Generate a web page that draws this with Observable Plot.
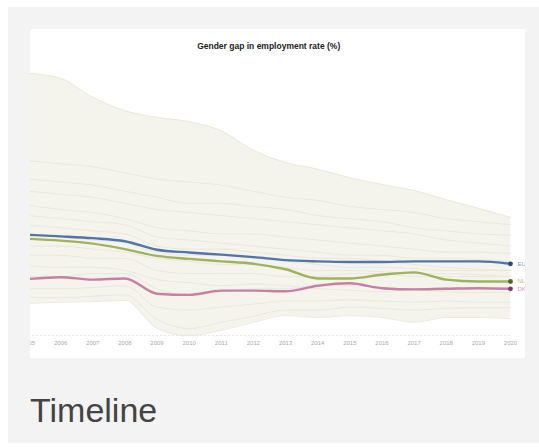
<!DOCTYPE html>
<html>
<head>
<meta charset="utf-8">
<script src="https://cdn.jsdelivr.net/npm/d3@7"></script>
<script src="https://cdn.jsdelivr.net/npm/@observablehq/plot@0.6"></script>
<style>
  html, body { margin: 0; padding: 0; background: #ffffff; }
  body { width: 539px; height: 447px; position: relative; overflow: hidden; font-family: "Liberation Sans", Arial, sans-serif; }
  #card { position: absolute; left: 8px; top: 7px; right: 0; height: 436px; background: #f3f3f3; }
  #panel { position: absolute; left: 30px; top: 29px; width: 495px; height: 329px; background: #ffffff; overflow: hidden; }
  #chart { position: absolute; left: -10px; top: 0; }
  #title { position: absolute; left: 238.7px; top: 13.3px; transform: translateX(-50%); font-size: 8.5px; line-height: 8.5px; font-weight: bold; color: #222; white-space: nowrap; }
  #caption { position: absolute; left: 30px; top: 393px; font-size: 34px; line-height: 34px; color: #444; }
</style>
</head>
<body>
<div id="card"></div>
<div id="panel">
  <div id="chart"></div>
  <div id="title">Gender gap in employment rate (%)</div>
</div>
<div id="caption">Timeline</div>
<script>
// ---- data (percentage points) ----
const years = [2005, 2006, 2007, 2008, 2009, 2010, 2011, 2012, 2013, 2014, 2015, 2016, 2017, 2018, 2019, 2020];

const highlightNames = ["EU", "NL", "DK"];
const euGap = [15.85, 15.6, 15.3, 14.8, 13.4, 12.95, 12.6, 12.2, 11.7, 11.5, 11.4, 11.4, 11.5, 11.5, 11.5, 11.1];
const nlGap = [15.2, 14.9, 14.4, 13.5, 12.4, 11.9, 11.5, 11.1, 10.2, 8.7, 8.7, 9.3, 9.7, 8.5, 8.2, 8.2];
const dkGap = [8.6, 8.9, 8.5, 8.7, 6.2, 6.0, 6.7, 6.7, 6.6, 7.5, 7.9, 7.1, 6.9, 7.0, 7.1, 7.0];
const highlightStroke = ["#5174aa", "#a0b25e", "#c77fa6"];
const highlightDot = ["#2c4677", "#556327", "#7a3a62"];
const highlightLabel = ["#7f9cc8", "#b5c27c", "#d79cbd"];

// envelope of all countries
const bandMax = [42.3, 41.5, 38.4, 36.2, 35.1, 34.4, 32.9, 29.7, 27.7, 26.6, 25.2, 24.1, 23.1, 21.6, 20.2, 18.7];
const bandMin = [4.6, 4.8, 4.9, 5.1, 0.5, -0.7, 0.2, 1.5, 2.6, 2.3, 2.6, 2.3, 1.5, 2.3, 2.3, 2.1];

// other countries (faint background lines)
const bgA = [28, 27.5, 27, 26, 25, 24.5, 24, 23, 22, 21.5, 20.5, 20, 19.5, 18.5, 18, 17.5];
const bgB = [25, 24.5, 24, 23, 22, 21, 21, 20.5, 20, 19, 18.5, 18, 17, 16.5, 16, 15.8];
const bgC = [23, 22.5, 22, 21, 20, 19.5, 19, 18.5, 18, 17.5, 17, 16.5, 16, 15, 14.5, 14];
const bgD = [20.7, 20, 19.5, 18.5, 17, 16.5, 16, 16, 15.5, 15, 14.5, 14, 13.5, 13, 13, 12.8];
const bgE = [19, 18.5, 18, 17.5, 15.5, 15, 14.5, 14, 13.5, 13, 12.5, 12.5, 12, 12, 11.8, 11.5];
const bgF = [17.4, 17, 16.5, 16, 14, 13.5, 13.5, 13, 12.5, 12, 12, 11.5, 11, 10.5, 10.2, 10];
const bgG = [16, 15.5, 15, 14.5, 13, 12.5, 12.5, 12, 11.5, 11, 10.5, 10.5, 10.3, 10, 10, 10];
const bgH = [14, 14, 13.5, 13, 12, 11.5, 11, 11, 10.5, 10, 10, 9.8, 9.5, 9.5, 9.3, 9];
const bgI = [12.5, 12.5, 12, 12, 10, 9.5, 9.5, 9.5, 9, 9, 9.5, 9.5, 9, 9, 9, 9];
const bgJ = [10.8, 10.5, 10.5, 10, 8.5, 8, 7.5, 7.8, 7.5, 7, 6.8, 6.5, 6.8, 6.5, 6.4, 6.4];
const bgK = [9, 9, 9.5, 9.5, 7, 6, 6.5, 7, 7, 7.5, 7.5, 7.2, 7, 7.2, 7, 7];
const bgL = [7, 7, 7.2, 7.5, 4, 3.5, 4, 4.5, 5, 5, 5.2, 5, 4.8, 5, 4.8, 4.8];
const bgM = [5.6, 5.5, 5.8, 6, 2, 0.5, 1.5, 2.5, 3.5, 3.5, 4, 3.8, 3.5, 3.8, 3.9, 3.9];
const axisFloor = -0.65;

// ---- build tables ----
const bgSeries = [bgA, bgB, bgC, bgD, bgE, bgF, bgG, bgH, bgI, bgJ, bgK, bgL, bgM, bandMax, bandMin];
const bgRows = bgSeries.flatMap((s, k) => years.map((yr, i) => ({year: yr, value: s[i], series: k})));
const bandRows = years.map((yr, i) => ({year: yr, lo: bandMin[i], hi: bandMax[i]}));
const hlSeries = [euGap, nlGap, dkGap];
const hlRows = hlSeries.flatMap((s, k) => years.map((yr, i) => ({year: yr, value: s[i], k})));
const lastRows = hlSeries.map((s, k) => ({year: years[years.length - 1], value: s[s.length - 1], k}));

const chart = Plot.plot({
  width: 505,
  height: 329,
  marginLeft: 8,
  marginRight: 15,
  marginTop: 58,
  marginBottom: 27,
  style: {background: "transparent", fontFamily: "Liberation Sans, Arial, sans-serif"},
  x: {domain: [years[0], years[years.length - 1]]},
  y: {domain: [0, 40], axis: null},
  marks: [
    Plot.areaY(bandRows, {x: "year", y1: "lo", y2: "hi", fill: "#f4f4ec", curve: "monotone-x"}),
    Plot.line(bgRows, {x: "year", y: "value", z: "series", stroke: "#e6e6da", strokeWidth: 0.9, curve: "monotone-x"}),
    Plot.ruleY([axisFloor], {stroke: "#e6e6e6", strokeDasharray: "2,2", strokeWidth: 1}),
    Plot.line(hlRows, {x: "year", y: "value", z: "k", stroke: d => highlightStroke[d.k], strokeWidth: 2.4, curve: "monotone-x"}),
    Plot.dot(lastRows, {x: "year", y: "value", r: 2.4, fill: d => highlightDot[d.k]}),
    Plot.text(lastRows, {x: "year", y: "value", text: d => highlightNames[d.k], dx: 7, textAnchor: "start", fontSize: 6, fill: d => highlightLabel[d.k]}),
    Plot.axisX({ticks: years, tickFormat: d => String(d), tickSize: 0, tickPadding: 9, fontSize: 6, color: "#aaaaaa", label: null})
  ]
});
document.getElementById("chart").appendChild(chart);
</script>
</body>
</html>
